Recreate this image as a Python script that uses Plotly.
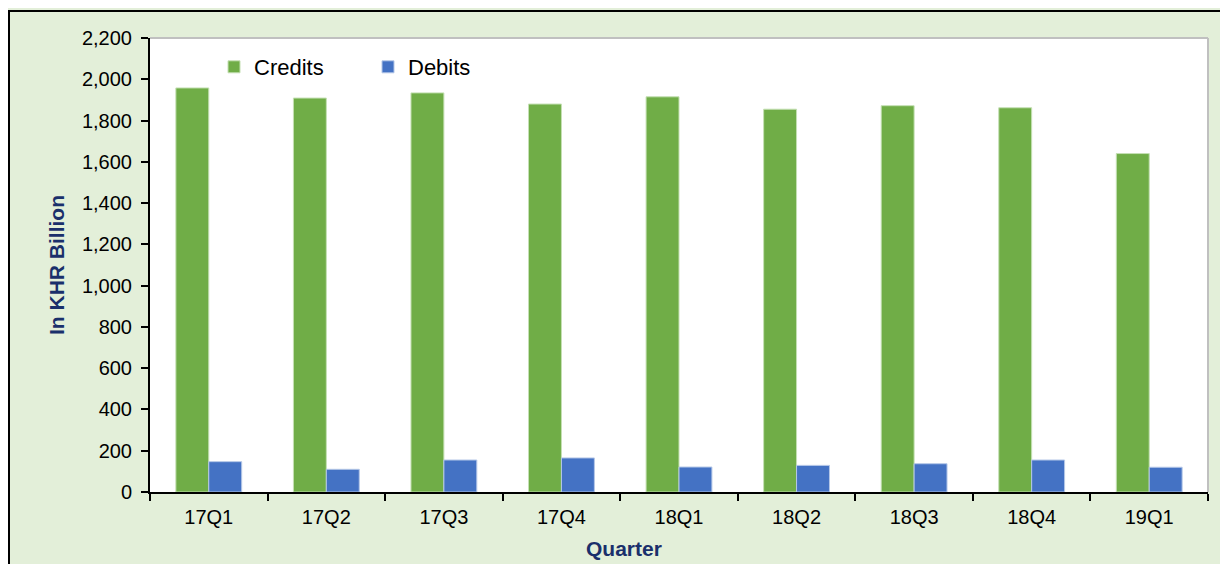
import plotly.graph_objects as go

quarters = ["17Q1", "17Q2", "17Q3", "17Q4", "18Q1", "18Q2", "18Q3", "18Q4", "19Q1"]
credits = [1958, 1909, 1934, 1880, 1915, 1855, 1872, 1862, 1640]
debits = [147, 110, 155, 165, 121, 129, 137, 155, 120]
y_ticks = list(range(0, 2201, 200))

OFF = 8  # default body margin of the page
W, H = 1228 - OFF, 564 - OFF
L, R, T, B = 150 - OFF, 20, 38 - OFF, 72
pw, ph = W - L - R, H - T - B

def px_x(p):
    return (p - OFF - L) / pw

def px_y(p):
    return (H + OFF - B - p) / ph

fig = go.Figure()
fig.add_trace(go.Bar(name="Credits", x=quarters, y=credits, marker_color="#70ad47",
                     marker_line=dict(color="#c5e0b4", width=1)))
fig.add_trace(go.Bar(name="Debits", x=quarters, y=debits, marker_color="#4472c4",
                     marker_line=dict(color="#b4c7e7", width=1)))

font = "Liberation Sans, Arial, sans-serif"
navy = "#1a2f6b"

fig.update_layout(
    width=W, height=H,
    margin=dict(l=L, r=R, t=T, b=B),
    paper_bgcolor="#e3efd9",
    plot_bgcolor="#ffffff",
    barmode="group",
    bargap=0.44,
    bargroupgap=0,
    font=dict(family=font, size=20, color="#000000"),
    legend=dict(orientation="h", x=px_x(214), y=px_y(46), xanchor="left", yanchor="top",
                font=dict(size=22, color="#000000"), bgcolor="rgba(0,0,0,0)",
                itemwidth=30, entrywidth=109, traceorder="normal"),
    xaxis=dict(
        type="category", tickson="boundaries", ticks="outside", ticklen=7,
        tickcolor="#000000", tickwidth=2, showline=True, linecolor="#000000",
        linewidth=2, showgrid=False, ticklabelstandoff=6,
        tickfont=dict(size=20),
    ),
    yaxis=dict(
        range=[0, 2200], tickvals=y_ticks, tickformat=",", ticks="outside", ticklen=7,
        tickcolor="#000000", tickwidth=2, showline=True, linecolor="#000000",
        linewidth=2, showgrid=False, zeroline=False, ticklabelstandoff=5,
        tickfont=dict(size=20),
        title=dict(text="<b>In KHR Billion</b>", font=dict(size=21, color=navy), standoff=12),
    ),
    annotations=[
        dict(text="<b>Quarter</b>", xref="paper", yref="paper", x=px_x(624), y=px_y(548),
             xanchor="center", yanchor="middle", showarrow=False,
             font=dict(size=21, color=navy)),
    ],
    shapes=[
        dict(type="rect", xref="paper", yref="paper", x0=px_x(9), x1=px_x(1240),
             y0=px_y(580), y1=px_y(11), line=dict(color="#000000", width=2),
             fillcolor="rgba(0,0,0,0)", layer="below"),
        dict(type="line", xref="paper", yref="paper", x0=0, x1=1, y0=1, y1=1,
             line=dict(color="#c0c0c0", width=2)),
        dict(type="line", xref="paper", yref="paper", x0=1, x1=1, y0=0, y1=1,
             line=dict(color="#c0c0c0", width=2)),
    ],
)

fig.write_html("out.html")
